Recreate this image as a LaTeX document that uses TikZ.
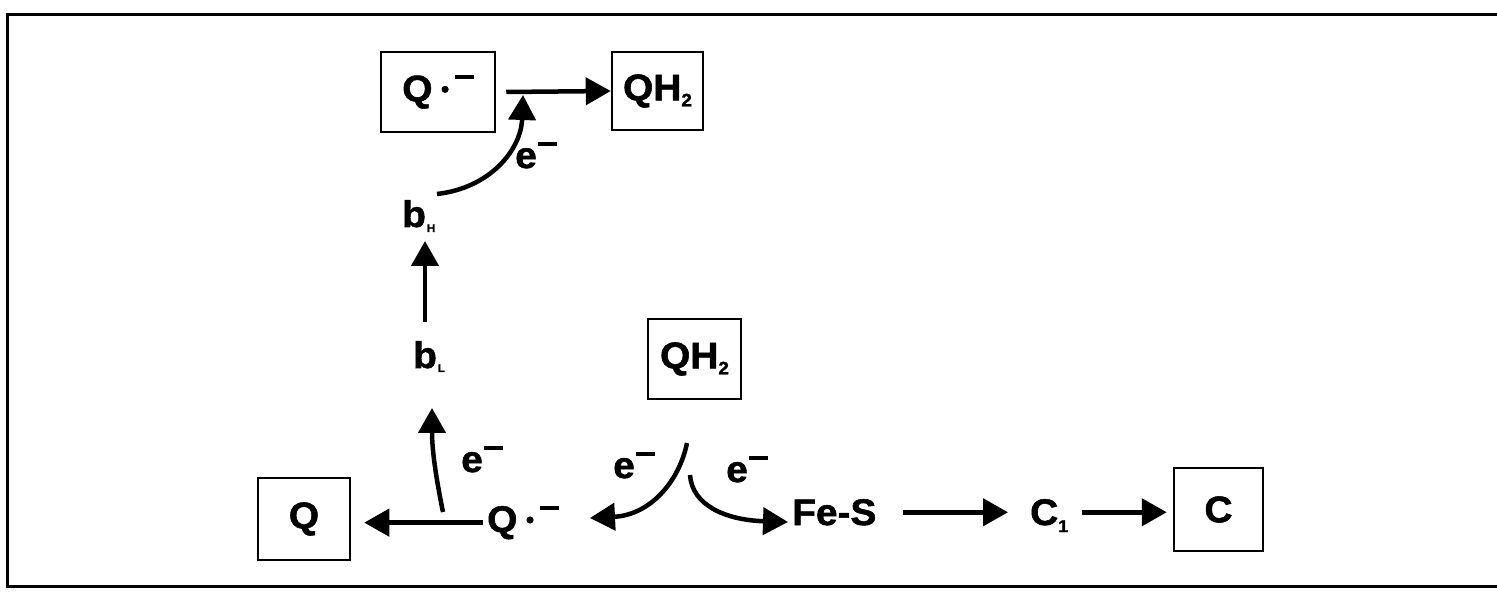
\documentclass[tikz,border=0pt]{standalone}
\usepackage{fontspec}
\setmainfont[FakeBold=1.5,FakeStretch=1.05]{Liberation Sans}
\usetikzlibrary{arrows.meta}
\newcommand\mns{\kern1pt\rule[22pt]{19pt}{4pt}}
\newcommand\rdot{\tikz[baseline=-12pt]\fill (0,0) circle[radius=3.6pt];}
\newcommand\sbs[1]{\raisebox{-6pt}{\fontsize{18}{18}\selectfont #1}}
\newcommand\qrad{Q\kern9pt\rdot\kern5pt\mns}
\begin{document}
\begin{tikzpicture}[x=1pt,y=-1pt,
  every node/.style={font=\fontsize{37}{40}\selectfont\bfseries},
  boxnode/.style={draw,line width=2.5pt,inner sep=0pt},
  txt/.style={anchor=base west,inner sep=0pt},
  arr/.style={line width=4.5pt,-{Triangle[length=25pt,width=27pt]}}]
\useasboundingbox (0,0) rectangle (1497,593);
\draw[line width=3pt] (1505,15) -- (7,15) -- (7,586) -- (1505,586);
% boxes
\node[boxnode,minimum width=114pt,minimum height=80pt] (qtop) at (438,92) {\qrad};
\node[boxnode,minimum width=91pt,minimum height=78pt] (qh2top) at (657.5,91) {QH\sbs{2}};
\node[boxnode,minimum width=93pt,minimum height=80pt] (qh2mid) at (694.5,359) {QH\sbs{2}};
\node[boxnode,minimum width=92pt,minimum height=82pt] (qbox) at (304,519) {Q};
\node[boxnode,minimum width=89pt,minimum height=83pt] (cbox) at (1218.5,509.5) {C};
% free texts
\node[txt] (bH) at (402,227) {b\kern1pt\raisebox{-5pt}{\fontsize{11}{11}\selectfont H}};
\node[txt] (bL) at (413,368) {b\kern1pt\raisebox{-4pt}{\fontsize{11}{11}\selectfont L}};
\node[txt] (qrad) at (487,532) {\qrad};
\node[txt] (fes) at (792,525) {Fe-S};
\node[txt] (c1) at (1030,525) {C\raisebox{-7pt}{\fontsize{17}{17}\selectfont 1}};
\node[txt] (e1) at (515,168) {e\mns};
\node[txt] (e2) at (461,472) {e\mns};
\node[txt] (e3) at (613,478) {e\mns};
\node[txt] (e4) at (726,482) {e\mns};
% connector end points
\coordinate (s2) at (437,194); \coordinate (t2) at (523,95);
\coordinate (s3) at (425,322); \coordinate (t3) at (425,241);
\coordinate (s5) at (443,512); \coordinate (t5) at (432,408);
\coordinate (s6) at (687,443); \coordinate (t6) at (590,518);
\coordinate (s7) at (690,475); \coordinate (t7) at (788,522);
% connectors
\draw[arr] ([xshift=10pt]qtop.east) -- (qh2top.west);
\draw[arr] (s2) .. controls (490,188) and (521,150) .. (t2);
\draw[arr] (s3) -- (t3);
\draw[arr] ([xshift=-4pt]qrad.west) -- ([xshift=13pt]qbox.east |- qrad.west);
\draw[arr] (s5) .. controls (436,478) and (432,450) .. (t5);
\draw[arr] (s6) .. controls (679,482) and (650,515) .. (t6);
\draw[arr] (s7) .. controls (692,505) and (725,520) .. (t7);
\draw[arr] ([xshift=26pt]fes.east) -- ([xshift=-22pt]c1.west |- fes.east);
\draw[arr] ([xshift=14pt]c1.east |- fes.east) -- ([xshift=-6pt]cbox.west |- fes.east);
\end{tikzpicture}
\end{document}
